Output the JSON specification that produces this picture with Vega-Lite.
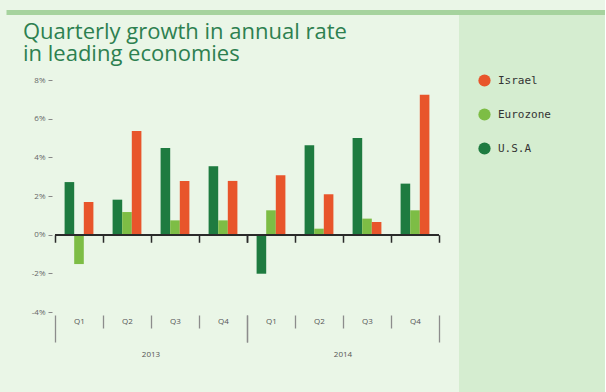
{
  "$schema": "https://vega.github.io/schema/vega-lite/v6.json",
  "background": "#eaf6e7",
  "padding": {"left": 3, "top": 9, "right": 0, "bottom": 0},
  "datasets": {
    "growth": [
      {"year": "2013", "quarter": "Q1", "series": "U.S.A", "value": 2.72},
      {"year": "2013", "quarter": "Q1", "series": "Eurozone", "value": -1.52},
      {"year": "2013", "quarter": "Q1", "series": "Israel", "value": 1.69},
      {"year": "2013", "quarter": "Q2", "series": "U.S.A", "value": 1.81},
      {"year": "2013", "quarter": "Q2", "series": "Eurozone", "value": 1.17},
      {"year": "2013", "quarter": "Q2", "series": "Israel", "value": 5.36},
      {"year": "2013", "quarter": "Q3", "series": "U.S.A", "value": 4.48},
      {"year": "2013", "quarter": "Q3", "series": "Eurozone", "value": 0.74},
      {"year": "2013", "quarter": "Q3", "series": "Israel", "value": 2.78},
      {"year": "2013", "quarter": "Q4", "series": "U.S.A", "value": 3.54},
      {"year": "2013", "quarter": "Q4", "series": "Eurozone", "value": 0.74},
      {"year": "2013", "quarter": "Q4", "series": "Israel", "value": 2.78},
      {"year": "2014", "quarter": "Q1", "series": "U.S.A", "value": -2.02},
      {"year": "2014", "quarter": "Q1", "series": "Eurozone", "value": 1.26},
      {"year": "2014", "quarter": "Q1", "series": "Israel", "value": 3.07},
      {"year": "2014", "quarter": "Q2", "series": "U.S.A", "value": 4.62},
      {"year": "2014", "quarter": "Q2", "series": "Eurozone", "value": 0.31},
      {"year": "2014", "quarter": "Q2", "series": "Israel", "value": 2.09},
      {"year": "2014", "quarter": "Q3", "series": "U.S.A", "value": 5.0},
      {"year": "2014", "quarter": "Q3", "series": "Eurozone", "value": 0.83},
      {"year": "2014", "quarter": "Q3", "series": "Israel", "value": 0.66},
      {"year": "2014", "quarter": "Q4", "series": "U.S.A", "value": 2.64},
      {"year": "2014", "quarter": "Q4", "series": "Eurozone", "value": 1.26},
      {"year": "2014", "quarter": "Q4", "series": "Israel", "value": 7.24}
    ],
    "panel": [{"area": "panel"}],
    "series": [{"series": "Israel"}, {"series": "Eurozone"}, {"series": "U.S.A"}]
  },
  "spacing": 0,
  "resolve": {"scale": {"color": "independent"}, "legend": {"color": "independent"}},
  "hconcat": [
    {
      "spacing": 6,
      "vconcat": [
        {
          "data": {"name": "panel"},
          "width": 404,
          "height": 5,
          "mark": {"type": "rect", "color": "#a6d39e"},
          "encoding": {
            "y": {
              "field": "area",
              "type": "nominal",
              "scale": {"paddingInner": 0, "paddingOuter": 0},
              "axis": {
                "title": null,
                "labels": false,
                "domain": false,
                "ticks": true,
                "tickSize": 49,
                "tickWidth": 5,
                "tickColor": "#a6d39e",
                "tickCap": "butt",
                "minExtent": 49,
                "grid": false
              }
            }
          }
        },
        {
          "data": {"name": "growth"},
          "title": {
            "text": ["Quarterly growth in annual rate", "in leading economies"],
            "anchor": "start",
            "frame": "bounds",
            "font": "Open Sans",
            "fontSize": 22,
            "fontWeight": "normal",
            "color": "#2d8050",
            "lineHeight": 22,
            "offset": 10,
            "dx": 15
          },
          "spacing": 0,
          "bounds": "flush",
          "facet": {
            "column": {
              "field": "year",
              "type": "nominal",
              "header": {
                "title": null,
                "labelOrient": "bottom",
                "labelFont": "Open Sans",
                "labelFontSize": 8,
                "labelColor": "#555555",
                "labelPadding": 8
              }
            }
          },
          "spec": {
            "width": 192,
            "height": 232,
            "layer": [
              {
                "mark": {"type": "bar"},
                "encoding": {
                  "x": {
                    "field": "quarter",
                    "type": "nominal",
                    "sort": ["Q1", "Q2", "Q3", "Q4"],
                    "scale": {"paddingInner": 0, "paddingOuter": 0},
                    "axis": {
                      "title": null,
                      "orient": "bottom",
                      "offset": 3,
                      "domain": false,
                      "tickBand": "extent",
                      "tickColor": "#8c8c8c",
                      "tickWidth": 1.3,
                      "tickSize": {"condition": {"test": "!datum.value || datum.value === 'Q4'", "value": 27}, "value": 13},
                      "labelAngle": 0,
                      "labelFont": "Open Sans",
                      "labelFontSize": 8,
                      "labelColor": "#555555",
                      "labelBaseline": "middle",
                      "labelPadding": {"condition": {"test": "datum.value === 'Q4'", "value": -21}, "value": -7},
                      "grid": true,
                      "gridColor": "#2b2b2b",
                      "gridWidth": 1.5,
                      "gridDash": [0, 154.7, 7.5, 500]
                    }
                  },
                  "xOffset": {
                    "field": "series",
                    "type": "nominal",
                    "sort": ["U.S.A", "Eurozone", "Israel"],
                    "scale": {"paddingInner": 0, "paddingOuter": 2.07}
                  },
                  "y": {
                    "field": "value",
                    "type": "quantitative",
                    "scale": {"domain": [-4, 8], "nice": false, "zero": false},
                    "axis": {
                      "title": null,
                      "values": [-4, -2, 0, 2, 4, 6, 8],
                      "tickCount": 12,
                      "labelExpr": "datum.value + '%'",
                      "grid": false,
                      "domain": false,
                      "tickSize": 4,
                      "tickColor": "#888888",
                      "offset": 3,
                      "labelPadding": 3,
                      "labelFont": "Open Sans",
                      "labelFontSize": 8,
                      "labelColor": "#666666",
                      "minExtent": 44
                    }
                  },
                  "color": {
                    "field": "series",
                    "type": "nominal",
                    "scale": {
                      "domain": ["Israel", "Eurozone", "U.S.A"],
                      "range": ["#e8552b", "#7dbd45", "#1e7b40"]
                    },
                    "legend": null
                  }
                }
              },
              {
                "mark": {"type": "rule", "color": "#2b2b2b", "strokeWidth": 1.5},
                "encoding": {"y": {"datum": 0}}
              }
            ]
          }
        }
      ]
    },
    {
      "spacing": 0,
      "vconcat": [
        {
          "data": {"name": "panel"},
          "width": 146,
          "height": 5,
          "mark": {"type": "rect", "color": "#a6d39e"},
          "encoding": {}
        },
        {
          "width": 146,
          "height": 378,
          "layer": [
            {
              "data": {"name": "panel"},
              "mark": {"type": "rect", "color": "#d5edd0"},
              "encoding": {}
            },
            {
              "data": {"name": "series"},
              "mark": {"type": "point", "filled": true, "opacity": 0},
              "encoding": {
                "color": {
                  "field": "series",
                  "type": "nominal",
                  "scale": {
                    "domain": ["Israel", "Eurozone", "U.S.A"],
                    "range": ["#e8552b", "#7dbd45", "#1e7b40"]
                  },
                  "legend": {
                    "title": null,
                    "orient": "none",
                    "legendX": 19,
                    "legendY": 64,
                    "symbolType": "circle",
                    "symbolSize": 150,
                    "symbolOpacity": 1,
                    "symbolStrokeWidth": 0,
                    "labelFont": "DejaVu Sans Mono",
                    "labelFontSize": 11,
                    "labelColor": "#333333",
                    "labelOffset": 7,
                    "rowPadding": 21,
                    "padding": 0
                  }
                }
              }
            }
          ]
        }
      ]
    }
  ],
  "config": {
    "view": {"stroke": null},
    "axis": {"labelFont": "Open Sans"}
  }
}
